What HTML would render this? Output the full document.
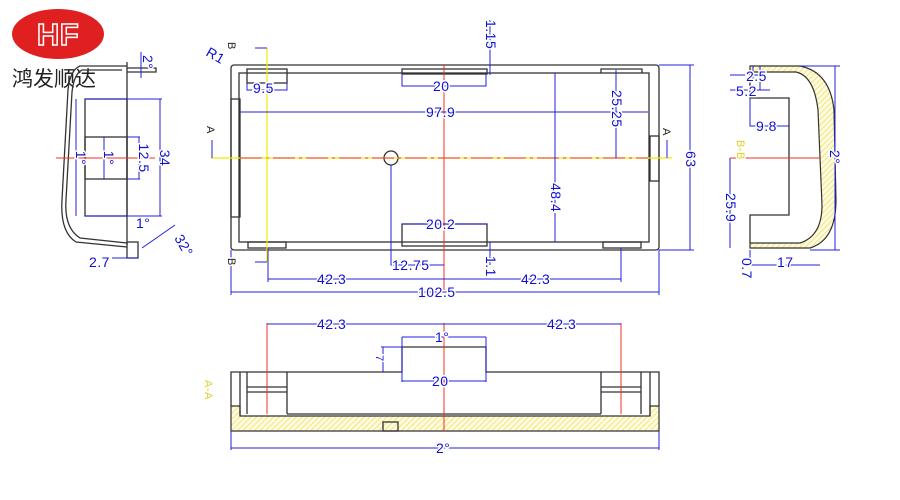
<!DOCTYPE html>
<html><head><meta charset="utf-8"><style>
html,body{margin:0;padding:0;background:#fff;}
svg{display:block}
text{font-family:"Liberation Sans",Arial,sans-serif;fill:#1010d0;font-size:14px;letter-spacing:0.5px;stroke:#fff;stroke-width:3px;paint-order:stroke}
.g{stroke:#333;stroke-width:1.3;fill:none}
.d{stroke:#2020e0;stroke-width:1;fill:none}
.r{stroke:#f03020;stroke-width:1;fill:none}
.y{stroke:#ee0;stroke-width:1.2;fill:none}
</style></head><body>
<svg width="900" height="500" viewBox="0 0 900 500" xmlns="http://www.w3.org/2000/svg">
<defs>
<pattern id="h" width="4" height="4" patternUnits="userSpaceOnUse" patternTransform="rotate(45)">
<rect width="4" height="4" fill="#fffbe0"/><line x1="0" y1="0" x2="0" y2="4" stroke="#e8d840" stroke-width="1.2"/></pattern>
</defs>
<!-- logo -->
<ellipse cx="58" cy="34" rx="46" ry="25" fill="#e02020"/>
<text x="58" y="45" text-anchor="middle" style="font-size:31px;font-weight:bold;fill:#e02020;stroke:#fff;stroke-width:1.5px;paint-order:normal">HF</text>
<text x="12" y="86" style="fill:#222;font-size:21px;stroke:none;letter-spacing:0;font-family:'Liberation Sans','Noto Sans CJK SC',sans-serif">鸿发顺达</text>

<!-- left side view -->
<path class="g" d="M127,66 L80,66 Q70,70 68,90 L62,200 Q60,232 76,242 L127,247"/>
<path class="g" d="M122,70 L82,70 Q74,74 72,92 L66,200 Q64,228 80,238 L127,243"/>
<line class="g" x1="127" y1="62" x2="127" y2="245"/>
<rect class="g" x="85" y="99" width="42" height="117"/>
<rect class="g" x="85" y="137" width="42" height="42"/>
<path class="g" d="M127,68 H156 V72 H127"/>
<rect class="g" x="127" y="242" width="11" height="16"/>
<line class="r" x1="56" y1="158" x2="155" y2="158"/>
<path class="d" d="M85,99 H162 M85,216 H162 M160,99 V216 M127,137 H140 M127,179 H140 M139,137 V179 M76,99 V216 M104,137 V179 M141,52 V78 M138,258 H112 M142,248 L175,225"/>
<text x="76" y="158" transform="rotate(90 76 158)" text-anchor="middle">1°</text>
<text x="104" y="158" transform="rotate(90 104 158)" text-anchor="middle">1°</text>
<text x="139" y="158" transform="rotate(90 139 158)" text-anchor="middle">12.5</text>
<text x="160" y="158" transform="rotate(90 160 158)" text-anchor="middle">34</text>
<text x="143" y="55" transform="rotate(90 143 55)">2°</text>
<text x="136" y="228">1°</text>
<text x="174" y="238" transform="rotate(60 174 238)">32°</text>
<text x="89" y="267">2.7</text>

<!-- top view -->
<rect class="g" x="231" y="65" width="428" height="185" rx="3"/>
<rect class="g" x="239" y="73" width="410" height="169"/>
<rect class="g" x="231" y="99" width="9" height="118"/>
<rect class="g" x="650" y="136" width="9" height="45"/>
<rect class="g" x="247" y="69" width="40" height="14"/>
<rect class="g" x="402" y="69" width="85" height="5"/>
<path class="g" d="M601,73 V69 H642 V73"/>
<rect class="g" x="248" y="242" width="38" height="6"/>
<rect class="g" x="402" y="224" width="85" height="22"/>
<rect class="g" x="603" y="242" width="38" height="6"/>
<circle class="g" cx="391" cy="158" r="7"/>
<line class="y" x1="211" y1="158" x2="672" y2="158"/>
<line class="r" x1="240" y1="158" x2="648" y2="158" stroke-dasharray="22,4,3,4"/>
<line class="y" x1="267" y1="48" x2="267" y2="262"/>
<line class="r" x1="444" y1="65" x2="444" y2="290"/>
<path class="d" d="M240,112 H648 M555,73 V242 M616,70 V158 M231,250 V295 M659,250 V295 M231,292 H659 M268,248 V282 M621,248 V282 M268,279 H621 M391,165 V265 H444 M659,65 H694 M659,250 H694 M690,65 V250 M247,83 V90 H287 V83 M402,74 V86 H486 V74 M402,224 H487 M490,20 V75 M490,242 V265 M212,158 V140 M667,158 V140 M267,48 H255 M267,262 H255"/>
<text x="253" y="93">9.5</text>
<text x="433" y="91">20</text>
<text x="426" y="117">97.9</text>
<text x="426" y="229">20.2</text>
<text x="392" y="270">12.75</text>
<text x="317" y="284">42.3</text>
<text x="521" y="284">42.3</text>
<text x="418" y="297">102.5</text>
<text x="551" y="183" transform="rotate(90 551 183)">48.4</text>
<text x="612" y="90" transform="rotate(90 612 90)">25.25</text>
<text x="686" y="151" transform="rotate(90 686 151)">63</text>
<text x="486" y="20" transform="rotate(90 486 20)">1.15</text>
<text x="486" y="256" transform="rotate(90 486 256)">1.1</text>
<text x="205" y="55" transform="rotate(30 205 55)">R1</text>
<text x="207" y="126" transform="rotate(90 207 126)" style="fill:#222;font-size:11px">A</text>
<text x="663" y="128" transform="rotate(90 663 128)" style="fill:#222;font-size:11px">A</text>
<text x="228" y="42" transform="rotate(90 228 42)" style="fill:#222;font-size:11px">B</text>
<text x="228" y="258" transform="rotate(90 228 258)" style="fill:#222;font-size:11px">B</text>

<!-- right side view -->
<path d="M750,66 H800 Q830,72 834,110 L836,200 Q836,240 810,248 H750 V243 H800 Q822,236 822,205 L818,110 Q814,76 796,72 H750 Z" fill="url(#h)" stroke="#333" stroke-width="1.2"/>
<path class="g" d="M750,72 V98 H789 V215 H750 V243"/>
<path class="d" d="M753,66 V79 M760,66 V90 M730,75 H760 M730,90 H770 M750,98 V126 H789 M730,158 V248 M835,66 V250 M800,66 H840 M810,250 H840 M750,250 V265 H820"/>
<line class="r" x1="730" y1="158" x2="820" y2="158"/>
<text x="746" y="81">2.5</text>
<text x="736" y="96">5.2</text>
<text x="756" y="131">9.8</text>
<text x="726" y="193" transform="rotate(90 726 193)">25.9</text>
<text x="742" y="258" transform="rotate(90 742 258)">0.7</text>
<text x="830" y="150" transform="rotate(90 830 150)">2°</text>
<text x="777" y="267">17</text>
<text x="737" y="140" transform="rotate(90 737 140)" style="fill:#e0d020;font-size:11px">B-B</text>

<!-- section A-A -->
<path d="M231,406 H240 V416 H650 V406 H659 V431 H231 Z" fill="url(#h)" stroke="#333" stroke-width="1.2"/>
<path class="g" d="M231,406 V372 H402 V347 H486 V372 H659 V406 M240,416 V372 M650,416 V372 M247,372 V414 M287,372 V414 M287,414 H601 M601,372 V414 M641,372 V414 M247,387 H287 M247,392 H287 M601,387 H641 M601,392 H641"/>
<rect class="g" x="383" y="422" width="15" height="9"/>
<line class="r" x1="444" y1="323" x2="444" y2="431"/>
<line class="r" x1="267" y1="323" x2="267" y2="414"/>
<line class="r" x1="621" y1="323" x2="621" y2="414"/>
<path class="d" d="M267,324 H621 M402,337 H486 M402,337 V382 M486,337 V382 M402,381 H486 M381,347 H402 M383,347 V372 M231,431 V450 M659,431 V450 M231,448 H659"/>
<text x="317" y="329">42.3</text>
<text x="547" y="329">42.3</text>
<text x="435" y="342">1°</text>
<text x="432" y="386">20</text>
<text x="376" y="355" transform="rotate(90 376 355)" style="font-size:11px">7</text>
<text x="436" y="453">2°</text>
<text x="205" y="380" transform="rotate(90 205 380)" style="fill:#e0d020;font-size:11px">A-A</text>
</svg>
</body></html>
